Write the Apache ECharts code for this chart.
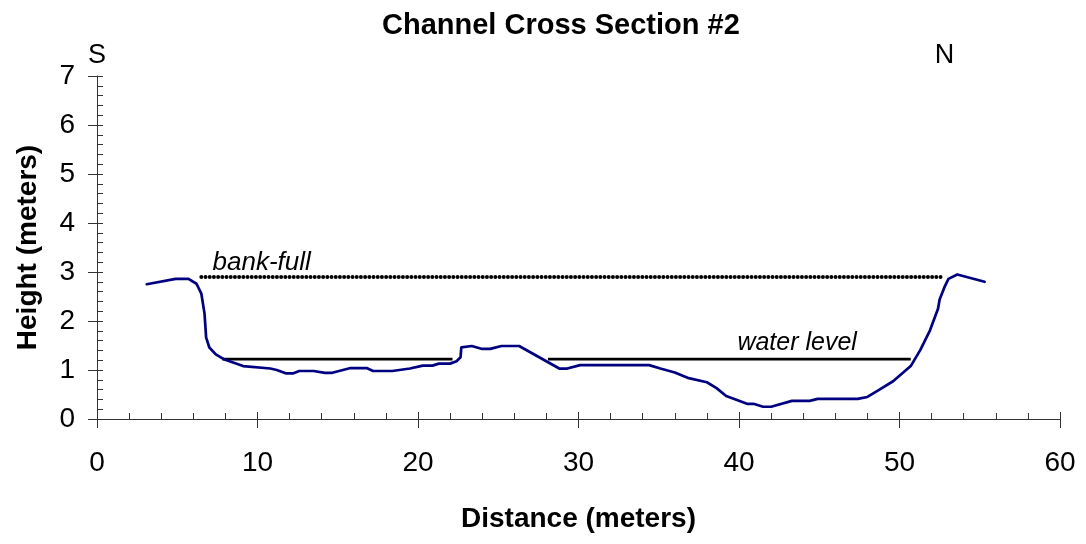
<!DOCTYPE html>
<html>
<head>
<meta charset="utf-8">
<title>Channel Cross Section #2</title>
<script src="https://cdn.jsdelivr.net/npm/echarts@6/dist/echarts.min.js"></script>
<style>
  html, body { margin: 0; padding: 0; background: #fff; }
  #chart { width: 1086px; height: 544px; }
</style>
</head>
<body>
<div id="chart"></div>
<script>
// Surveyed ground profile across the channel (distance from south bank, height)
const profileDistance = [3.1, 4.9, 5.7, 6.2, 6.5, 6.7, 6.8, 7.0, 7.4, 7.9, 9.1, 10.8, 11.2, 11.8, 12.2, 12.6, 13.5, 14.2, 14.6, 15.8, 16.8, 17.2, 18.4, 19.5, 20.3, 20.9, 21.3, 22.0, 22.4, 22.65, 22.7, 22.8, 23.35, 24.0, 24.5, 25.2, 26.3, 28.8, 29.3, 30.1, 34.4, 35.1, 36.0, 36.8, 38.0, 38.6, 39.2, 40.5, 40.9, 41.5, 42.0, 43.3, 44.4, 44.9, 47.4, 48.0, 48.7, 49.6, 50.7, 51.3, 51.9, 52.4, 52.5, 52.8, 53.05, 53.6, 55.3];
const profileHeight   = [2.75, 2.86, 2.86, 2.76, 2.56, 2.15, 1.66, 1.46, 1.32, 1.22, 1.08, 1.03, 1.0, 0.93, 0.93, 0.98, 0.98, 0.94, 0.94, 1.04, 1.04, 0.98, 0.98, 1.03, 1.09, 1.09, 1.13, 1.13, 1.18, 1.26, 1.46, 1.49, 1.49, 1.43, 1.43, 1.49, 1.49, 1.03, 1.03, 1.10, 1.10, 1.03, 0.95, 0.84, 0.75, 0.63, 0.47, 0.31, 0.31, 0.25, 0.25, 0.37, 0.37, 0.41, 0.41, 0.45, 0.59, 0.77, 1.08, 1.41, 1.81, 2.25, 2.44, 2.69, 2.86, 2.95, 2.80];

// Bank-full stage and its extent
const bankFullHeight = 2.9;
const bankFullExtent = [6.5, 52.7];

// Water surface, split by the mid-channel bar
const waterLevelHeight = 1.22;
const waterLevelSegments = [[7.8, 22.15], [28.1, 50.7]];

// Text annotations: [distance, height, text, font size]
const lineNotes = [[7.2, 3.18, 'bank-full', 26], [39.9, 1.55, 'water level', 25]];
const bankNotes = [[0, 7.42, 'S'], [52.8, 7.42, 'N']];

// Axis ranges and tick steps
const xRange = [0, 60], xStep = 10;
const yRange = [0, 7], yStep = 1;

const profileData = profileDistance.map((d, i) => [d, profileHeight[i]]);
const bankFullData = bankFullExtent.map(d => [d, bankFullHeight]);
const waterData = [];
waterLevelSegments.forEach((seg, i) => {
  if (i > 0) waterData.push('-');
  seg.forEach(d => waterData.push([d, waterLevelHeight]));
});

const FONT = '"Liberation Sans", Arial, sans-serif';
const AXIS_COLOR = '#333';

function baseAxis(range, step) {
  return {
    type: 'value', min: range[0], max: range[1], interval: step,
    splitLine: { show: false }
  };
}

const chart = echarts.init(document.getElementById('chart'), null, { renderer: 'canvas' });
chart.setOption({
  animation: false,
  backgroundColor: '#fff',
  title: {
    text: 'Channel Cross Section #2',
    left: 377, top: 6,
    textStyle: { fontFamily: FONT, fontSize: 29, fontWeight: 'bold', color: '#000' }
  },
  grid: { left: 97, right: 26, top: 76, bottom: 125, containLabel: false },
  xAxis: [
    Object.assign(baseAxis(xRange, xStep), {
      position: 'bottom',
      axisLine: { show: true, lineStyle: { color: AXIS_COLOR, width: 1 } },
      axisTick: { show: true, inside: true, length: 7, lineStyle: { color: AXIS_COLOR } },
      minorTick: { show: true, splitNumber: 5, length: 6, lineStyle: { color: AXIS_COLOR } },
      axisLabel: { fontFamily: FONT, fontSize: 28, color: '#000', margin: 30 },
      name: 'Distance (meters)', nameLocation: 'middle', nameGap: 86,
      nameTextStyle: { fontFamily: FONT, fontSize: 28, fontWeight: 'bold', color: '#000' }
    }),
    Object.assign(baseAxis(xRange, xStep), {
      position: 'bottom',
      axisLine: { show: false },
      axisTick: { show: true, inside: false, length: 9, lineStyle: { color: AXIS_COLOR } },
      axisLabel: { show: false }
    })
  ],
  yAxis: [
    Object.assign(baseAxis(yRange, yStep), {
      position: 'left',
      axisLine: { show: true, lineStyle: { color: AXIS_COLOR, width: 1 } },
      axisTick: { show: true, inside: true, length: 6, lineStyle: { color: AXIS_COLOR } },
      minorTick: { show: true, splitNumber: 5, length: 6, lineStyle: { color: AXIS_COLOR } },
      axisLabel: { fontFamily: FONT, fontSize: 28, color: '#000', margin: 22 },
      name: 'Height (meters)', nameLocation: 'middle', nameGap: 55, nameRotate: 90,
      nameTextStyle: { fontFamily: FONT, fontSize: 28, fontWeight: 'bold', color: '#000' }
    }),
    Object.assign(baseAxis(yRange, yStep), {
      position: 'left',
      axisLine: { show: false },
      axisTick: { show: true, inside: false, length: 9, lineStyle: { color: AXIS_COLOR } },
      axisLabel: { show: false }
    })
  ],
  series: [
    {
      name: 'bank-full', type: 'line', data: bankFullData,
      showSymbol: false, silent: true,
      lineStyle: { color: '#000', width: 4, type: [0, 4.2], cap: 'round' }
    },
    {
      name: 'water level', type: 'line', data: waterData,
      showSymbol: false, silent: true, connectNulls: false,
      lineStyle: { color: '#000', width: 2.8 }
    },
    {
      name: 'ground', type: 'line', data: profileData,
      showSymbol: false, silent: true,
      lineStyle: { color: '#000080', width: 2.7, join: 'round', cap: 'round' }
    },
    {
      name: 'line notes', type: 'scatter', silent: true,
      data: lineNotes.map(n => ({
        value: n.slice(0, 3),
        label: { fontSize: n[3] }
      })),
      symbolSize: 0,
      itemStyle: { opacity: 1 },
      label: {
        show: true, position: 'right', distance: 0,
        formatter: p => p.value[2],
        fontFamily: FONT, fontStyle: 'italic', color: '#000'
      }
    },
    {
      name: 'bank notes', type: 'scatter', data: bankNotes,
      symbolSize: 0, silent: true, clip: false,
      itemStyle: { opacity: 1 },
      label: {
        show: true, position: 'inside',
        formatter: p => p.value[2],
        fontFamily: FONT, fontSize: 27, color: '#000'
      }
    }
  ]
});
</script>
</body>
</html>
